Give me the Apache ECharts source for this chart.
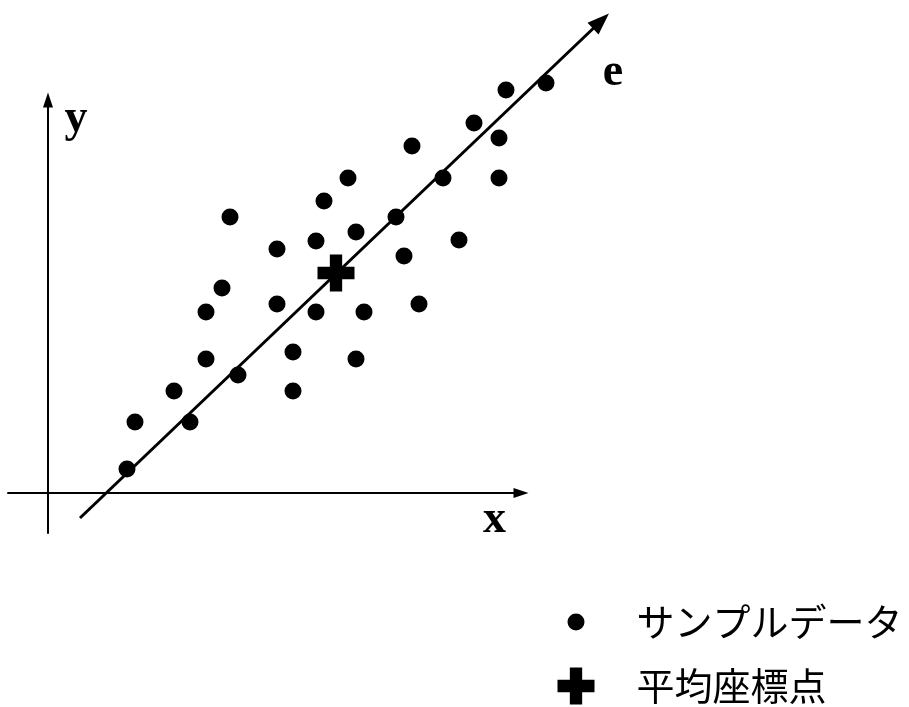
<!DOCTYPE html>
<html>
<head>
<meta charset="utf-8">
<script src="https://cdn.jsdelivr.net/npm/echarts@6/dist/echarts.min.js"></script>
<style>html,body{margin:0;padding:0;background:#fff}#c{width:909px;height:707px}</style>
</head>
<body>
<div id="c"></div>
<script>
// Sample data points (x, y)
const sampleX = [7.9, 8.7, 12.6, 14.2, 15.8, 19.0, 15.8, 17.4, 18.2, 22.9, 22.9, 24.5, 24.5, 26.8, 26.8, 27.6,
                 30.0, 30.8, 31.6, 30.8, 34.8, 35.6, 37.1, 36.4, 39.5, 41.1, 42.6, 45.1, 45.1, 45.8, 49.8];
const sampleY = [2.4, 7.1, 10.2, 7.1, 13.4, 11.8, 18.1, 20.5, 27.6, 24.4, 18.9, 14.1, 10.2, 25.2, 18.1, 29.2,
                 31.5, 26.1, 18.1, 13.4, 27.6, 23.7, 18.9, 34.7, 31.5, 25.3, 37.0, 35.5, 31.5, 40.3, 41.0];
// Mean coordinate point
const meanPoint = [28.8, 22.0];
// Principal axis e: start and end
const eStart = [3.2, -2.5];
const eEnd = [55.3, 47.2];
// Axis label positions
const axisLabels = [
  {text: 'x', pos: [44.65, -2.7]},
  {text: 'y', pos: [2.8, 37.4]},
  {text: 'e', pos: [56.5, 42.0]}
];
const seriesNames = ['サンプルデータ', '平均座標点'];

const crossPath = 'path://M4,0 H8 V4 H12 V8 H8 V12 H4 V8 H0 V4 H4 Z';
const samples = sampleX.map((x, i) => [x, sampleY[i]]);

const chart = echarts.init(document.getElementById('c'), null, {renderer: 'canvas'});
const hiddenAxis = {
  type: 'value', axisLine: {show: false}, axisTick: {show: false},
  axisLabel: {show: false}, splitLine: {show: false}
};
const arrowAxis = {
  type: 'value',
  axisLine: {show: true, onZero: true, symbol: ['none', 'triangle'], symbolSize: [10, 15],
             lineStyle: {color: '#000', width: 2}},
  axisTick: {show: false},
  axisLabel: {show: false},
  splitLine: {show: false}
};
const legendText = {fontFamily: 'Noto Sans CJK JP', fontSize: 38, color: '#000'};
chart.setOption({
  backgroundColor: '#fff',
  animation: false,
  grid: [
    {left: 8, right: 388, top: 100, bottom: 174},
    {left: 8, right: 201, top: 0, bottom: 174}
  ],
  xAxis: [
    Object.assign({gridIndex: 0, min: -4, max: 47.3}, arrowAxis),
    Object.assign({gridIndex: 1, min: -4, max: 66}, hiddenAxis)
  ],
  yAxis: [
    Object.assign({gridIndex: 0, min: -4, max: 39.3}, arrowAxis),
    Object.assign({gridIndex: 1, min: -4, max: 49.3}, hiddenAxis)
  ],
  legend: [
    {
      data: [seriesNames[0]], orient: 'vertical', left: 567.5, top: 603, padding: 0,
      itemWidth: 17, itemHeight: 17, icon: 'circle',
      itemStyle: {color: '#000', opacity: 1},
      textStyle: Object.assign({padding: [0, 0, 0, 47]}, legendText)
    },
    {
      data: [seriesNames[1]], orient: 'vertical', left: 557.5, top: 667, padding: 0,
      itemWidth: 37, itemHeight: 37, icon: crossPath,
      itemStyle: {color: '#000', opacity: 1},
      textStyle: Object.assign({padding: [0, 0, 0, 37]}, legendText)
    }
  ],
  series: [
    {
      name: 'line-e', type: 'line', xAxisIndex: 1, yAxisIndex: 1, data: [], clip: false, silent: true,
      markLine: {
        silent: true, symbol: ['none', 'triangle'], symbolSize: [16, 22],
        lineStyle: {color: '#000', width: 3, type: 'solid', opacity: 1},
        label: {show: false},
        emphasis: {disabled: true},
        data: [[{coord: eStart}, {coord: eEnd}]]
      },
      markPoint: {
        symbolSize: 0,
        label: {show: true, position: 'inside', fontFamily: 'Liberation Serif', fontWeight: 'bold',
                fontSize: 46, color: '#000', formatter: p => p.name},
        data: axisLabels.map(l => ({name: l.text, coord: l.pos}))
      }
    },
    {
      name: seriesNames[0], type: 'scatter', xAxisIndex: 1, yAxisIndex: 1, data: samples,
      symbol: 'circle', symbolSize: 17, clip: false, itemStyle: {color: '#000', opacity: 1}
    },
    {
      name: seriesNames[1], type: 'scatter', xAxisIndex: 1, yAxisIndex: 1, data: [meanPoint],
      symbol: crossPath, symbolSize: 37, clip: false, itemStyle: {color: '#000', opacity: 1}, z: 5
    }
  ]
});
</script>
</body>
</html>
